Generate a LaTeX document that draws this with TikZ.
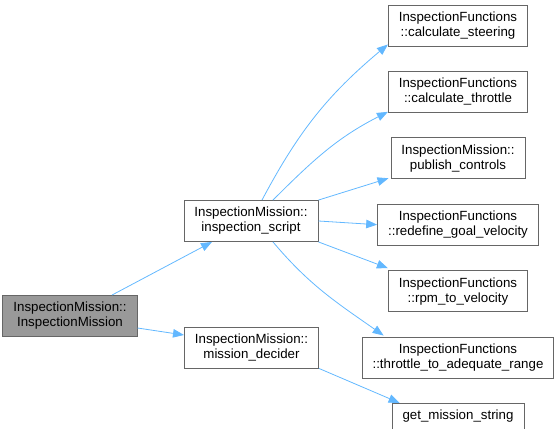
\documentclass[tikz,border=0pt]{standalone}
\usepackage{fontspec}
\setmainfont{Liberation Sans}
\usepackage{xcolor}
\usetikzlibrary{arrows.meta, positioning}

\definecolor{edgeblue}{HTML}{63B8FF}
\definecolor{boxgray}{HTML}{666666}
\definecolor{rootfill}{HTML}{999999}

\begin{document}
\begin{tikzpicture}[x=1pt, y=1pt,
    fn/.style={rectangle, draw=boxgray, fill=white, line width=0.9pt,
               minimum height=41pt, inner xsep=10.5pt, inner ysep=2pt,
               align=center, font=\fontsize{13.3}{15}\selectfont},
    rootfn/.style={fn, fill=rootfill},
    arr/.style={-{Triangle[length=11pt, width=8.5pt]}, edgeblue, line width=0.8pt}]

    \useasboundingbox (0,0) rectangle (556,428);

    % caller and the two methods it calls
    \node[rootfn] (root) at (70,112) {InspectionMission::\\InspectionMission};
    \node[fn] (insp) at (251,207) {InspectionMission::\\inspection\_script};
    \node[fn] (dec) at (251.5,80.5) {InspectionMission::\\mission\_decider};

    % callees, stacked top to bottom
    \node[fn] (steer) at (458,402.5) {InspectionFunctions\\::calculate\_steering};
    \node[fn, below=24.5pt of steer] (thr) {InspectionFunctions\\::calculate\_throttle};
    \node[fn, below=24.5pt of thr] (pub) {InspectionMission::\\publish\_controls};
    \node[fn, below=24.5pt of pub] (redef) {InspectionFunctions\\::redefine\_goal\_velocity};
    \node[fn, below=24.5pt of redef] (rpm) {InspectionFunctions\\::rpm\_to\_velocity};
    \node[fn, below=24.5pt of rpm] (adeq) {InspectionFunctions\\::throttle\_to\_adequate\_range};
    \node[fn, minimum height=26pt, below=24.5pt of adeq] (getms) {get\_mission\_string};

    \draw[arr] ([xshift=42pt]root.north) -- ([xshift=-39pt]insp.south);
    \draw[arr] ([yshift=-12pt]root.east) -- ([yshift=12.5pt]dec.west);

    \draw[arr] ([xshift=11pt]insp.north) to[out=62, in=220] ([yshift=2pt]steer.south west);
    \draw[arr] ([xshift=22pt]insp.north) to[out=45, in=207] ([yshift=1pt]thr.south west);
    \draw[arr] (insp.north east) -- ([xshift=-2pt,yshift=1pt]pub.south west);
    \draw[arr] (insp.east) -- (redef.west);
    \draw[arr] (insp.south east) -- ([yshift=2pt]rpm.north west);
    \draw[arr] ([xshift=22pt]insp.south) to[out=-50, in=145] ([xshift=22pt,yshift=1pt]adeq.north west);

    \draw[arr] (dec.south east) -- ([xshift=8pt]getms.north west);
\end{tikzpicture}
\end{document}
